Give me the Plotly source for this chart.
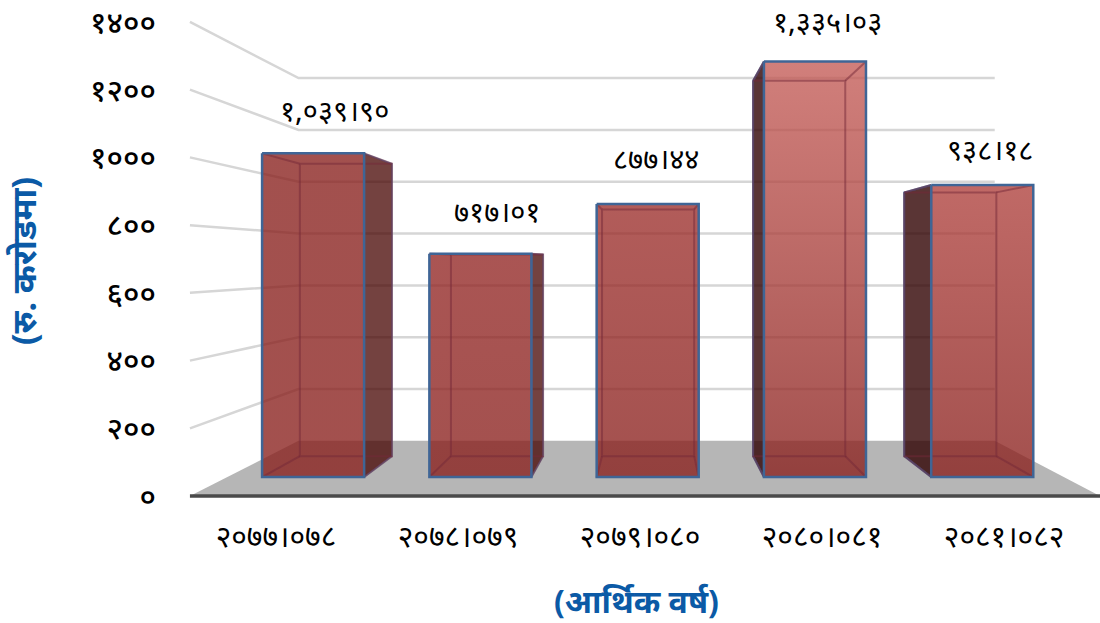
import plotly.graph_objects as go

# ---- data ----
categories = ["२०७७।०७८", "२०७८।०७९", "२०७९।०८०", "२०८०।०८१", "२०८१।०८२"]
values = [1039.90, 717.01, 877.44, 1335.03, 938.18]
value_labels = ["१,०३९।९०", "७१७।०१", "८७७।४४", "१,३३५।०३", "९३८।१८"]
y_ticks = [0, 200, 400, 600, 800, 1000, 1200, 1400]
y_tick_labels = ["०", "२००", "४००", "६००", "८००", "१०००", "१२००", "१४००"]
y_title = "(रु. करोडमा)"
x_title = "(आर्थिक वर्ष)"

# ---- styles / projection (perspective of the 3-D box) ----
FONT = "Noto Sans, sans-serif"
VP_X, VP_Y = 2.066, 694.0      # vanishing point, in axis units
S_BACK, S_FRONT, S_REAR = 0.765, 0.919, 0.83   # depth scale: wall back, bar front, bar back
HALF = 0.305
CENTER_SHIFT = 0.04
X_L, X_R = -0.4725, 4.527
top_colors = ["rgba(136,31,28,.78)", "rgba(146,37,35,.78)", "rgba(156,46,43,.78)",
              "rgba(196,91,86,.78)", "rgba(174,63,59,.78)"]
bottom_color = "rgba(137,31,28,.78)"
label_dx = [21, 17, 8, 13, 8]
label_dy = [44, 43, 46, 41, 37]


def px(x, s):
    return VP_X + (x - VP_X) * s


def py(v, s):
    return VP_Y + (v - VP_Y) * s


fig = go.Figure()


def poly(xs, ys, **kw):
    fig.add_trace(go.Scatter(x=xs, y=ys, mode="lines", hoverinfo="skip", showlegend=False, **kw))


# floor
poly([X_L, px(X_L, S_BACK), px(X_R, S_BACK), X_R, X_L],
     [0, py(0, S_BACK), py(0, S_BACK), 0, 0],
     fill="toself", fillcolor="#b6b6b6", line=dict(width=0))

# gridlines: side wall + back wall
for v in y_ticks[1:]:
    poly([X_L, px(X_L, S_BACK), px(X_R, S_BACK)], [v, py(v, S_BACK), py(v, S_BACK)],
         line=dict(color="#d6d6d6", width=2.5))

# bars
for i, v in enumerate(values):
    c = i + CENTER_SHIFT
    l, r = c - HALF, c + HALF
    fl, fr = px(l, S_FRONT), px(r, S_FRONT)
    bl, br = px(l, S_REAR), px(r, S_REAR)
    ft, fb = py(v, S_FRONT), py(0, S_FRONT)
    bt, bb = py(v, S_REAR), py(0, S_REAR)
    # dark side face
    side = "rgba(70,3,0,.75)" if i < 2 else "rgba(49,2,2,.8)"
    if br > fr:
        poly([fr, br, br, fr, fr], [ft, bt, bb, fb, ft], fill="toself", fillcolor=side,
             line=dict(color="rgba(80,110,160,.8)", width=1.5))
    if bl < fl:
        poly([fl, bl, bl, fl, fl], [ft, bt, bb, fb, ft], fill="toself", fillcolor=side,
             line=dict(color="rgba(60,95,150,.9)", width=2))
    # front face with vertical gradient
    poly([fl, fr, fr, fl, fl], [ft, ft, fb, fb, ft], fill="toself",
         fillgradient=dict(type="vertical", start=ft, stop=fb,
                           colorscale=[[0, top_colors[i]], [1, bottom_color]]),
         line=dict(width=0))
    # inner back rectangle and connecting edges
    inner = dict(color="rgba(115,40,55,.5)", width=2)
    poly([bl, br, br, bl, bl], [bt, bt, bb, bb, bt], line=inner)
    for xa, ya, xb, yb in [(fl, ft, bl, bt), (fr, ft, br, bt), (fl, fb, bl, bb), (fr, fb, br, bb)]:
        poly([xa, xb], [ya, yb], line=inner)
    # front outline
    poly([fl, fr, fr, fl, fl], [ft, ft, fb, fb, ft], line=dict(color="#3f6596", width=2.5))
    fig.add_annotation(x=px(c, S_FRONT), y=py(v, S_FRONT), xref="x", yref="y", text=value_labels[i],
                       showarrow=False, xshift=label_dx[i], yshift=label_dy[i],
                       font=dict(family=FONT, size=29, color="black"))

# base line
poly([X_L, X_R], [0, 0], line=dict(color="#4a4a4a", width=3.5))

# x-axis title placed as annotation, slightly right of the plot centre
fig.add_annotation(x=2.0, y=0, xref="x", yref="y", text=x_title, showarrow=False, xshift=-4, yshift=-104,
                   font=dict(family=FONT, size=32, color="#0b5aa6", weight="bold"))

fig.update_layout(
    width=1100, height=623, margin=dict(l=160, r=0, t=0, b=103),
    paper_bgcolor="white", plot_bgcolor="white", showlegend=False,
    font=dict(family=FONT, color="black", size=30),
    xaxis=dict(range=[-0.637, 4.527], tickmode="array", tickvals=list(range(5)), ticktext=categories,
               showgrid=False, zeroline=False, showline=False, ticks="", ticklen=0,
               ticklabelstandoff=-4, tickfont=dict(size=30)),
    yaxis=dict(range=[-70.6, 1458.8], tickmode="array", tickvals=y_ticks, ticktext=y_tick_labels,
               showgrid=False, zeroline=False, showline=False, ticks="", ticklen=0,
               ticklabeloverflow="allow", ticklabelstandoff=3,
               tickfont=dict(size=31, weight=500), title=dict(text=y_title, standoff=44,
               font=dict(size=34, color="#0b5aa6", weight="bold"))),
)

fig.write_html("out.html", config={"displayModeBar": False},
               post_script="document.body.style.margin='0';")
